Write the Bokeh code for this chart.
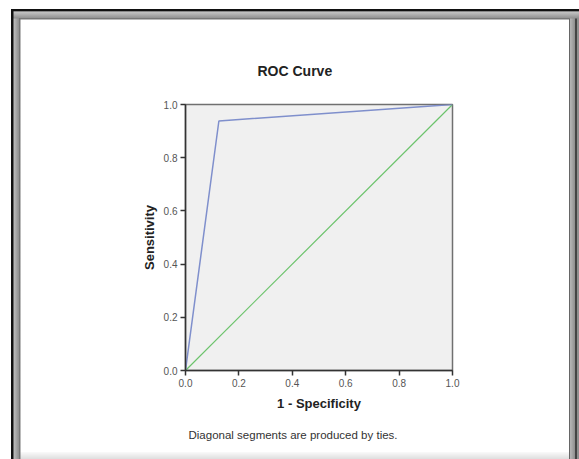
from bokeh.plotting import figure
from bokeh.models import Range1d, FixedTicker, Title, InlineStyleSheet, CustomJSTickFormatter
from bokeh.embed import file_html
from bokeh.resources import INLINE

# ROC curve coordinates (1 - specificity, sensitivity)
fpr = [0.0, 0.125, 1.0]
tpr = [0.0, 0.938, 1.0]
# reference (chance) line
ref_x = [0.0, 1.0]
ref_y = [0.0, 1.0]
ticks = [0.0, 0.2, 0.4, 0.6, 0.8, 1.0]

W, H = 579, 459
FL, FT, FW, FH = 185, 104, 267, 266

p = figure(width=W, height=H, output_backend="svg", toolbar_location=None,
           x_range=Range1d(0, 1), y_range=Range1d(0, 1),
           frame_width=FW, frame_height=FH,
           min_border_left=FL, min_border_top=FT,
           min_border_right=W - FL - FW, min_border_bottom=H - FT - FH)
p.background_fill_color = "#f0f0f0"
p.border_fill_color = None
p.outline_line_color = "#707070"
p.outline_line_width = 1.5
p.grid.visible = False

for ax in (p.xaxis[0], p.yaxis[0]):
    ax.ticker = FixedTicker(ticks=ticks)
    ax.formatter = CustomJSTickFormatter(code="return tick.toFixed(1);")
    ax.axis_line_color = "#333333"
    ax.axis_line_width = 1.5
    ax.major_tick_line_color = "#333333"
    ax.major_tick_line_width = 1.5
    ax.major_tick_out = 5
    ax.major_tick_in = 0
    ax.minor_tick_line_color = None
    ax.major_label_text_font = "Liberation Sans"
    ax.major_label_text_font_size = "10px"
    ax.major_label_text_color = "#555555"
    ax.major_label_standoff = 3
    ax.axis_label_text_font = "Liberation Sans"
    ax.axis_label_text_font_size = "13px"
    ax.axis_label_text_font_style = "bold"
    ax.axis_label_text_color = "#222222"

p.xaxis.axis_label = "1 - Specificity"
p.yaxis.axis_label = "Sensitivity"
p.xaxis.axis_label_standoff = 6
p.yaxis.axis_label_standoff = 4

p.line(ref_x, ref_y, line_color="#6cc36c", line_width=1.2)
p.line(fpr, tpr, line_color="#7f8fcc", line_width=1.5)

# chart title, centred over the whole output panel
p.title = Title(text="ROC Curve", align="left", offset=72, standoff=52,
                text_font="Liberation Sans", text_font_size="14px",
                text_font_style="bold", text_color="#222222")
# footnote under the chart
p.add_layout(Title(text="Diagonal segments are produced by ties.", align="left",
                   offset=3, standoff=26, text_font="Liberation Sans",
                   text_font_size="11.5px", text_font_style="normal",
                   text_color="#333333"), "below")

# window frame decoration around the output panel (drawn behind the transparent canvas)
def layer(color, x, y, w, h, grad=None):
    img = f"linear-gradient({grad})" if grad else f"linear-gradient({color},{color})"
    return f"{img} {x}px {y}px / {w}px {h}px no-repeat"

layers = [
    layer("#111111", 11, 9, 568, 2.5),                       # top outer line
    layer("#111111", 11, 9, 2.5, 450),                       # left outer line
    layer("#777777", 20, 18, 549, 1.5),                      # top inner line
    layer("#777777", 19, 18, 1.5, 441),                      # left inner line
    layer(None, 13, 11.5, 566, 6.5, "to bottom, #c4c4c4, #8e8e8e"),
    layer(None, 13, 11.5, 6, 447.5, "to right, #c4c4c4, #8e8e8e"),
    layer("#666666", 569, 18, 1.5, 441),                     # right inner line
    layer("#444444", 575, 12, 2, 447),
    layer(None, 570.5, 15, 4.5, 444, "to right, #b0b0b0, #8a8a8a"),
    layer("#909090", 577, 12, 2, 447),
    layer(None, 20, 452, 549, 7, "to bottom, #fafafa, #dedede"),  # bottom shading
]
css = ":host { background: " + ", ".join(layers) + ", #ffffff; }"
p.stylesheets = [InlineStyleSheet(css=css)]

open("out.html", "w").write(file_html(p, INLINE))
